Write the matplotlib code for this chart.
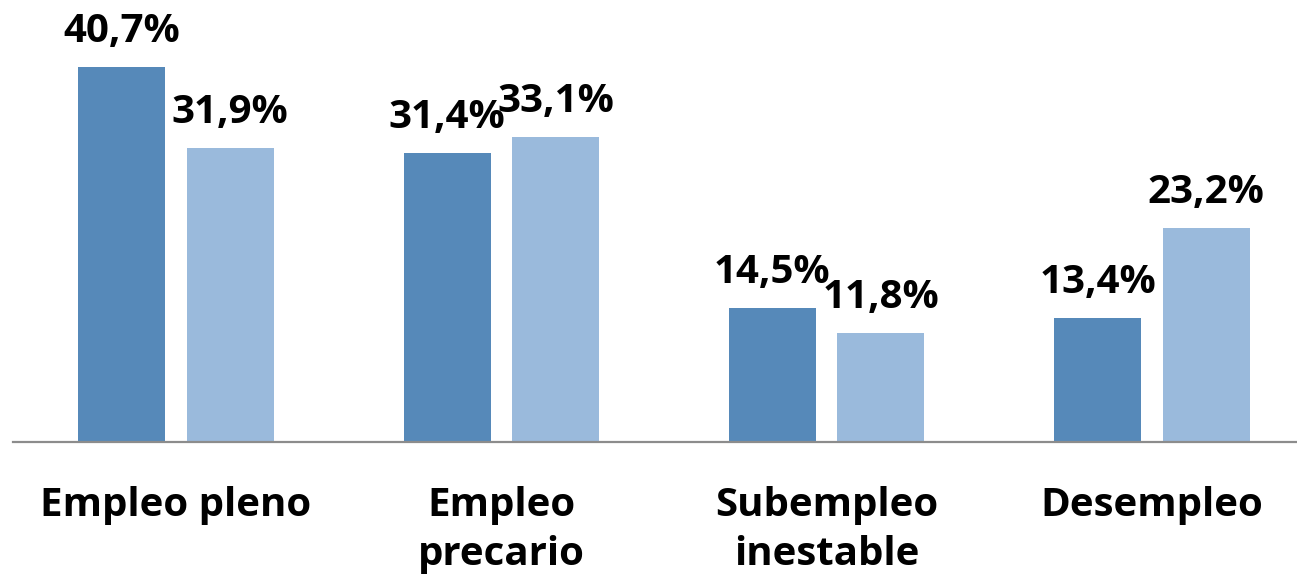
import numpy as np
import matplotlib.pyplot as plt

categories = ["Empleo pleno", "Empleo\nprecario", "Subempleo\ninestable", "Desempleo"]
serie_a = [40.7, 31.4, 14.5, 13.4]
serie_b = [31.9, 33.1, 11.8, 23.2]

color_a = "#5689B9"
color_b = "#9ABADC"

plt.rcParams['font.family'] = ['Open Sans', 'DejaVu Sans']

fig = plt.figure(figsize=(12.97, 5.84), dpi=100)
ax = fig.add_axes([13 / 1297, 142.5 / 584, 1 - 13 / 1297, 441.5 / 584])

x = np.arange(len(categories))
w = 0.2674
off = 0.1667
bars_a = ax.bar(x - off, serie_a, width=w, color=color_a)
bars_b = ax.bar(x + off, serie_b, width=w, color=color_b)

def fmt(v):
    return f"{v:.1f}%".replace(".", ",")

for bars, vals in ((bars_a, serie_a), (bars_b, serie_b)):
    for b, v in zip(bars, vals):
        ax.annotate(fmt(v), (b.get_x() + b.get_width() / 2, v),
                    xytext=(0, 18), textcoords="offset points",
                    ha="center", va="baseline",
                    fontsize=29, fontweight="bold")

ax.set_xlim(-0.501, 3.446)
ax.set_ylim(0, 48.0)
ax.set_yticks([])
ax.set_xticks(x)
ax.set_xticklabels(categories, fontsize=29, fontweight="bold", linespacing=1.32)
ax.tick_params(axis="x", length=0, pad=32)
for s in ("top", "right", "left"):
    ax.spines[s].set_visible(False)
ax.spines["bottom"].set_color("#8C8C8C")
ax.spines["bottom"].set_linewidth(1.6)

fig.savefig("out.png", dpi=100)
